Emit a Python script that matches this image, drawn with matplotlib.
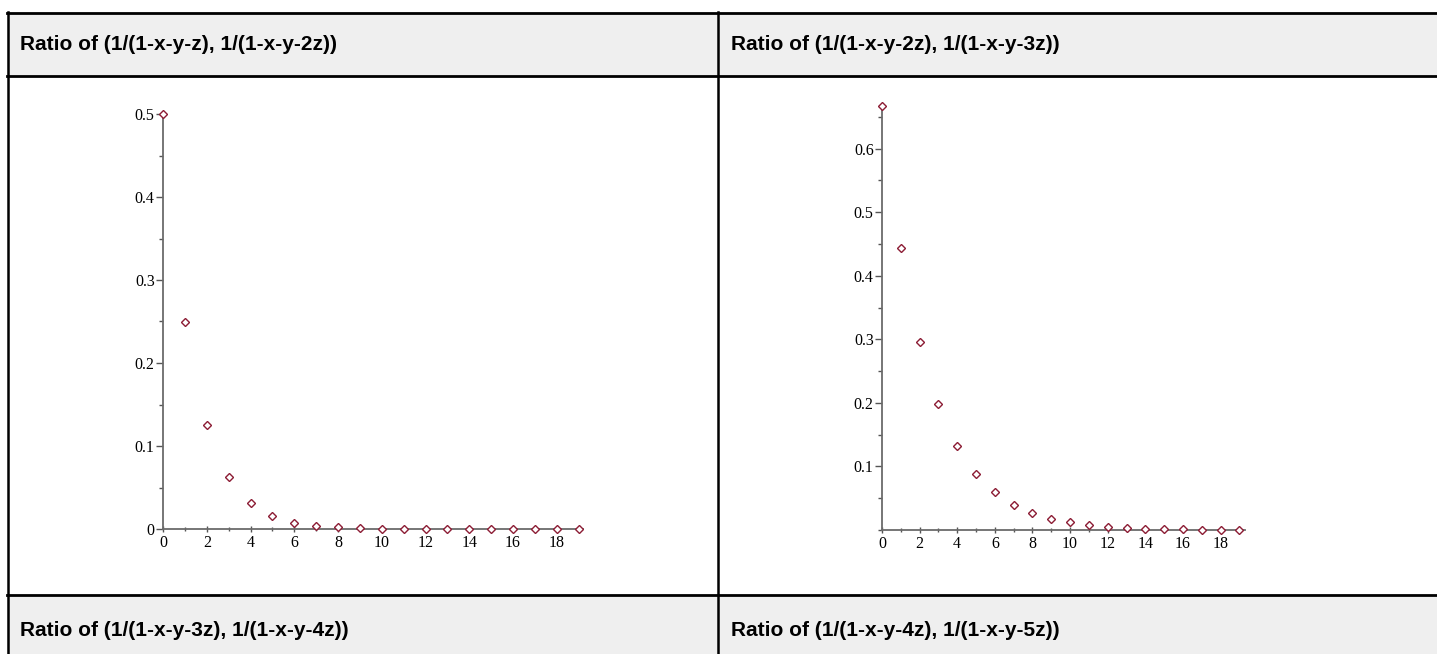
import numpy as np
import matplotlib.pyplot as plt
from matplotlib.patches import Rectangle
from matplotlib.lines import Line2D
from matplotlib.ticker import MultipleLocator, FixedLocator

W, H = 1437, 654

n = list(range(20))
ratio_1 = [0.5, 0.25, 0.125, 0.0625, 0.03125, 0.0156, 0.0078, 0.0039, 0.002, 0.001,
           0.0005, 0.0002, 0.0001, 0.00006, 0.00003, 0.00002, 0.00001, 0.0, 0.0, 0.0]
ratio_2 = [0.667, 0.444, 0.296, 0.198, 0.132, 0.088, 0.059, 0.039, 0.026, 0.017,
           0.012, 0.008, 0.005, 0.003, 0.002, 0.0015, 0.001, 0.0007, 0.0005, 0.0003]

titles = ["Ratio of (1/(1-x-y-z), 1/(1-x-y-2z))",
          "Ratio of (1/(1-x-y-2z), 1/(1-x-y-3z))",
          "Ratio of (1/(1-x-y-3z), 1/(1-x-y-4z))",
          "Ratio of (1/(1-x-y-4z), 1/(1-x-y-5z))"]

fig = plt.figure(figsize=(W / 100, H / 100), dpi=100)
fig.patch.set_facecolor("white")


def fx(px):
    return px / W


def fy(py):
    return 1 - py / H


# table background and header rows
gray = "#efefef"
fig.patches.append(Rectangle((fx(7), fy(76)), fx(W - 7), fy(13) - fy(76),
                             transform=fig.transFigure, facecolor=gray, edgecolor="none", zorder=0))
fig.patches.append(Rectangle((fx(7), fy(H)), fx(W - 7), fy(595) - fy(H),
                             transform=fig.transFigure, facecolor=gray, edgecolor="none", zorder=0))

# grid lines of the table
for y in [13, 76, 595]:
    fig.lines.append(Line2D([fx(7), 1], [fy(y), fy(y)], transform=fig.transFigure,
                            color="black", lw=2.0))
for x in [7.5, 718]:
    fig.lines.append(Line2D([fx(x), fx(x)], [fy(12), 0], transform=fig.transFigure,
                            color="black", lw=1.8))

# header texts
hdr = dict(fontsize=15, fontweight="bold", family="Liberation Sans", va="center", ha="left")
fig.text(fx(20), fy(45), titles[0], **hdr)
fig.text(fx(731), fy(45), titles[1], **hdr)
fig.text(fx(20), fy(631), titles[2], **hdr)
fig.text(fx(731), fy(631), titles[3], **hdr)

mk = dict(marker="D", linestyle="none", markersize=4.0, markerfacecolor="white",
          markeredgecolor="#8c1c34", markeredgewidth=1.0, clip_on=False, zorder=5)


def style_axes(ax, yticks, ylabels):
    for s in ["top", "right"]:
        ax.spines[s].set_visible(False)
    for s in ["left", "bottom"]:
        ax.spines[s].set_color("#6b6b6b")
        ax.spines[s].set_linewidth(1.3)
    ax.set_facecolor("none")
    ax.xaxis.set_major_locator(MultipleLocator(2))
    ax.xaxis.set_minor_locator(MultipleLocator(1))
    ax.yaxis.set_major_locator(FixedLocator(yticks))
    ax.set_yticklabels(ylabels)
    ax.yaxis.set_minor_locator(MultipleLocator(0.05))
    ax.tick_params(which="major", length=5, width=1, color="#555555", direction="inout",
                   labelsize=11.5, pad=2)
    ax.tick_params(which="minor", length=3, width=1, color="#555555", direction="inout")
    ax.tick_params(axis="y", which="both", direction="out", pad=1)
    for lab in ax.get_xticklabels() + ax.get_yticklabels():
        lab.set_family("Liberation Serif")


# left plot
ax1 = fig.add_axes([fx(163), fy(529), fx(583 - 163), fy(114) - fy(529)])
ax1.plot(n, ratio_1, **mk)
ax1.set_xlim(0, 19.2)
ax1.set_ylim(0, 0.5)
style_axes(ax1, [0, 0.1, 0.2, 0.3, 0.4, 0.5], ["0", "0.1", "0.2", "0.3", "0.4", "0.5"])
ax1.set_xticks(range(0, 19, 2))

# right plot
ax2 = fig.add_axes([fx(882), fy(530), fx(1245 - 882), fy(106) - fy(530)])
ax2.plot(n, ratio_2, **mk)
ax2.set_xlim(0, 19.3)
ax2.set_ylim(0, 0.667)
style_axes(ax2, [0.1, 0.2, 0.3, 0.4, 0.5, 0.6], ["0.1", "0.2", "0.3", "0.4", "0.5", "0.6"])
ax2.set_xticks(range(0, 19, 2))

fig.savefig("out.png", dpi=100)
